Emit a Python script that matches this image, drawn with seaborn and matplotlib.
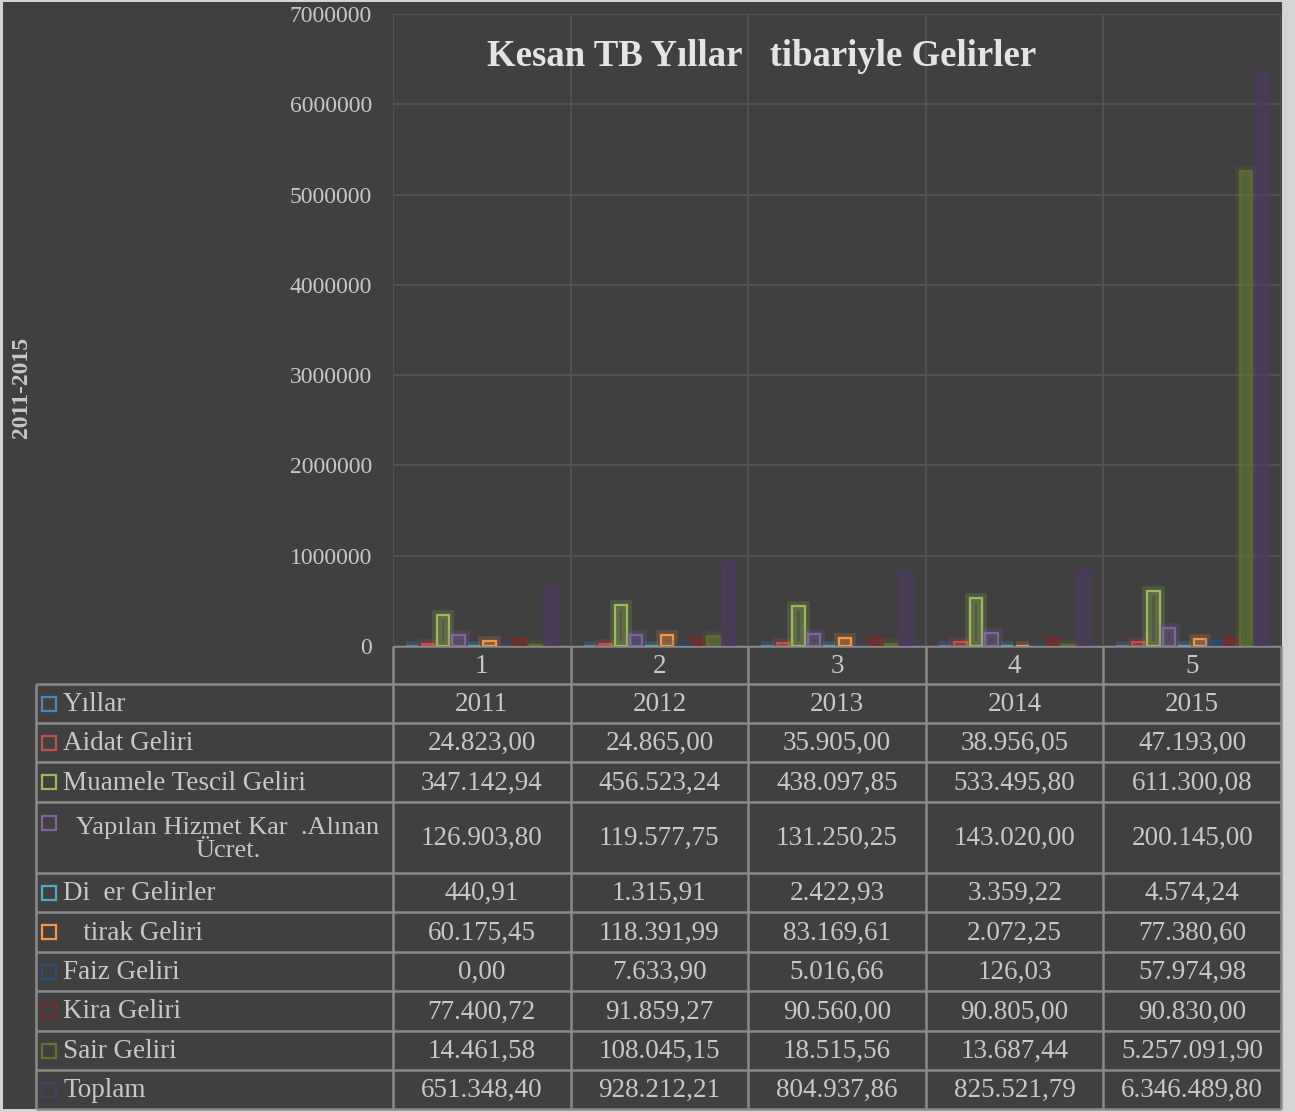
# Kesan TB yillar itibariyle gelirler - sütun grafik + veri tablosu
import numpy as np
import pandas as pd
import seaborn as sns
import matplotlib.pyplot as plt
import matplotlib.patheffects as pe
from matplotlib.colors import to_rgba
from matplotlib.patches import Rectangle

# Veriler
kategoriler = ['1', '2', '3', '4', '5']
yillar = [2011, 2012, 2013, 2014, 2015]
aidat = [24823.00, 24865.00, 35905.00, 38956.05, 47193.00]
muamele = [347142.94, 456523.24, 438097.85, 533495.80, 611300.08]
hizmet = [126903.80, 119577.75, 131250.25, 143020.00, 200145.00]
diger = [440.91, 1315.91, 2422.93, 3359.22, 4574.24]
istirak = [60175.45, 118391.99, 83169.61, 2072.25, 77380.60]
faiz = [0.00, 7633.90, 5016.66, 126.03, 57974.98]
kira = [77400.72, 91859.27, 90560.00, 90805.00, 90830.00]
sair = [14461.58, 108045.15, 18515.56, 13687.44, 5257091.90]
toplam = [651348.40, 928212.21, 804937.86, 825521.79, 6346489.80]

seri_adlari = ['Yıllar', 'Aidat Geliri', 'Muamele Tescil Geliri',
               'Yapılan Hizmet Kar  .Alınan\nÜcret.', 'Di  er Gelirler',
               '   tirak Geliri', 'Faiz Geliri', 'Kira Geliri', 'Sair Geliri', 'Toplam']
seri_degerleri = [yillar, aidat, muamele, hizmet, diger, istirak, faiz, kira, sair, toplam]
renkler = ['#4f81bd', '#c0504d', '#9bbb59', '#8064a2', '#4bacc6',
           '#f79646', '#2c4d75', '#772c2a', '#5f7530', '#4d3b62']
y_ticks = [0, 1000000, 2000000, 3000000, 4000000, 5000000, 6000000, 7000000]

df = pd.DataFrame([(ad, k, v) for ad, vals in zip(seri_adlari, seri_degerleri)
                   for k, v in zip(kategoriler, vals)],
                  columns=['seri', 'kategori', 'deger'])

def tr_format(v, tam=False):
    if tam:
        return str(int(v))
    s = f'{v:,.2f}'
    return s.replace(',', 'X').replace('.', ',').replace('X', '.')

# Stil
BG = '#404040'
TXT = '#c8c8c8'
LINE = '#8a8a8a'
GRID = '#525252'
sns.set_style('dark', {'axes.facecolor': BG, 'figure.facecolor': '#d4d4d4'})
plt.rcParams['font.family'] = ['Liberation Serif', 'DejaVu Serif']

W, H = 1295, 1112
fig = plt.figure(figsize=(W / 100, H / 100), dpi=100)

# arka plan + tablo katmani (piksel koordinatlari)
ov = fig.add_axes([0, 0, 1, 1], zorder=0)
ov.set_xlim(0, W)
ov.set_ylim(H, 0)
ov.axis('off')
ov.add_patch(Rectangle((3, 2), 1279, 1107, facecolor=BG, edgecolor='none'))

# grafik alani
x0, x1, ytop, ybot = 393, 1281, 14, 646
ax = fig.add_axes([x0 / W, 1 - ybot / H, (x1 - x0) / W, (ybot - ytop) / H], zorder=1)
ax.set_facecolor('none')

sns.barplot(data=df, x='kategori', y='deger', hue='seri', order=kategoriler,
            hue_order=seri_adlari, palette=renkler, width=0.87, gap=0.2,
            saturation=1, errorbar=None, legend=False, ax=ax)

for i, cont in enumerate(ax.containers):
    c = renkler[i]
    for bar in cont:
        if i < 6:
            bar.set_facecolor(to_rgba(c, 0.12))
            bar.set_edgecolor(c)
        else:
            bar.set_facecolor(to_rgba(c, 0.4))
            bar.set_edgecolor(to_rgba(c, 0.8))
        bar.set_linewidth(1.6)
        bar.set_zorder(3)
        bar.set_path_effects([pe.Stroke(linewidth=7, foreground=to_rgba(c, 0.18)), pe.Normal()])

ax.set_xlim(-0.5, 4.5)
ax.set_ylim(0, 7000000)
ax.set_yticks(y_ticks)
ax.set_yticklabels([f'{t:d}' for t in y_ticks])
ax.set_xticks(range(len(kategoriler)))
ax.set_xticklabels(kategoriler)
ax.set_xticks(np.arange(-0.5, 5, 1), minor=True)
ax.tick_params(axis='y', length=0, pad=15, labelsize=17, labelcolor=TXT)
ax.tick_params(axis='x', which='both', length=0, pad=6, labelsize=19.5, labelcolor=TXT)
ax.set_xlabel('')
ax.set_ylabel('')
ax.grid(axis='y', color=GRID, linewidth=1.4, zorder=0)
ax.grid(axis='x', which='minor', color=GRID, linewidth=1.4, zorder=0)
ax.grid(axis='x', which='major', visible=False)
ax.set_axisbelow(True)
for s in ax.spines.values():
    s.set_visible(False)

ax.text((762 - x0) / (x1 - x0), (ybot - 57) / (ybot - ytop),
        'Kesan TB Yıllar   tibariyle Gelirler', transform=ax.transAxes,
        ha='center', va='center', fontsize=26.5, fontweight='bold', color='#e4e4e4', zorder=5)

ov.text(22, 387, '2011-2015', rotation=90, ha='center', va='center',
        fontsize=17, fontweight='bold', color=TXT)

# veri tablosu
col_x = [393, 570.6, 748.2, 925.8, 1103.4, 1281]
row_y = [684, 723, 762, 802, 873, 912, 952, 991, 1031, 1070, 1109]
lab_x = 36
lw = 1.8
ov.hlines(646, col_x[0], col_x[-1], color=LINE, lw=lw, zorder=4)
ov.vlines(col_x, 646, row_y[0], color=LINE, lw=lw)
ov.hlines(row_y, lab_x, col_x[-1], color=LINE, lw=lw)
ov.vlines([lab_x] + col_x, row_y[0], row_y[-1], color=LINE, lw=lw)

for r, (ad, vals, c) in enumerate(zip(seri_adlari, seri_degerleri, renkler)):
    ya, yb = row_y[r], row_y[r + 1]
    yc = (ya + yb) / 2
    if '\n' in ad:
        ov.text(228, yc + 2, ad, ha='center', va='center', multialignment='center',
                fontsize=19, color=TXT, linespacing=1.05)
        key_y = yc - 15
    else:
        ov.text(63, yc + 1, ad, ha='left', va='center', fontsize=19.5, color=TXT)
        key_y = yc
    ov.add_patch(Rectangle((42, key_y - 7), 14, 14, facecolor='none', edgecolor=c, lw=1.6))
    for k in range(5):
        xc = (col_x[k] + col_x[k + 1]) / 2
        ov.text(xc, yc + 1, tr_format(vals[k], tam=(r == 0)), ha='center', va='center',
                fontsize=19.5, color=TXT)

fig.savefig('out.png', dpi=100)
